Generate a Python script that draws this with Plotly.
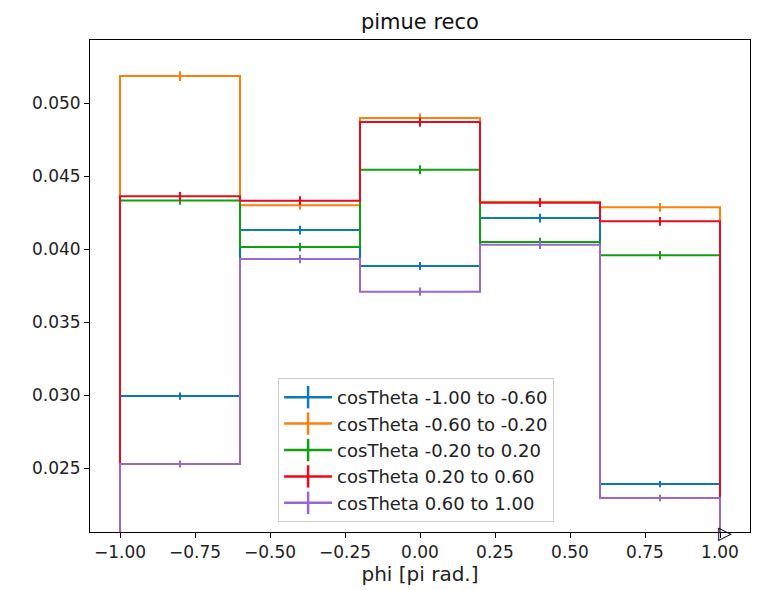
import plotly.graph_objects as go

edges = [-1.0, -0.6, -0.2, 0.2, 0.6, 1.0]
centers = [-0.8, -0.4, 0.0, 0.4, 0.8]

labels = [
    "cosTheta -1.00 to -0.60",
    "cosTheta -0.60 to -0.20",
    "cosTheta -0.20 to 0.20",
    "cosTheta 0.20 to 0.60",
    "cosTheta 0.60 to 1.00",
]

vals_1 = [0.02993, 0.04130, 0.03884, 0.04212, 0.02390]
vals_2 = [0.05185, 0.04300, 0.04897, 0.04322, 0.04286]
vals_3 = [0.04333, 0.04014, 0.04543, 0.04048, 0.03957]
vals_4 = [0.04361, 0.04331, 0.04870, 0.04318, 0.04190]
vals_5 = [0.02527, 0.03932, 0.03708, 0.04030, 0.02295]

err_1 = [0.00025, 0.00030, 0.00028, 0.00030, 0.00022]
err_2 = [0.00033, 0.00030, 0.00032, 0.00030, 0.00030]
err_3 = [0.00030, 0.00029, 0.00031, 0.00029, 0.00029]
err_4 = [0.00030, 0.00030, 0.00032, 0.00030, 0.00030]
err_5 = [0.00024, 0.00029, 0.00028, 0.00029, 0.00022]

colors = ["#0b78be", "#ff7f0e", "#10a010", "#ea0a1e", "#9a68c8"]

y_range = [0.02062, 0.05432]
x_range = [-1.1, 1.1]
x_ticks = [-1.0, -0.75, -0.5, -0.25, 0.0, 0.25, 0.5, 0.75, 1.0]
y_ticks = [0.025, 0.030, 0.035, 0.040, 0.045, 0.050]

all_vals = [vals_1, vals_2, vals_3, vals_4, vals_5]
all_errs = [err_1, err_2, err_3, err_4, err_5]

fig = go.Figure()

for i, (v, e, c, lab) in enumerate(zip(all_vals, all_errs, colors, labels)):
    xs = [edges[0]] + edges[:-1] + [edges[-1], edges[-1]]
    ys = [0] + v + [v[-1], 0]
    fig.add_trace(go.Scatter(
        x=xs, y=ys, mode="lines", line=dict(color=c, width=2, shape="hv"),
        showlegend=False, hoverinfo="skip"))
    fig.add_trace(go.Scatter(
        x=centers, y=v, mode="markers", marker=dict(size=1, color=c, opacity=0),
        error_y=dict(type="data", array=e, color=c, thickness=2, width=0),
        showlegend=False))
    fig.add_trace(go.Scatter(
        x=[None], y=[None], mode="lines+markers", name=lab,
        legendgroup="g%d" % i,
        line=dict(color=c, width=2.5),
        marker=dict(symbol="line-ns-open", size=18, color=c,
                    line=dict(color=c, width=2.5))))

fig.add_annotation(x=edges[-1], y=0, xref="x", yref="paper",
                   text="▷", showarrow=False, font=dict(size=18, color="black"),
                   xanchor="center", yanchor="middle", xshift=5)

tick_fmt = lambda t: ("%.2f" % t).replace("-", "\u2212")

fig.update_layout(
    width=758, height=590,
    margin=dict(l=90, r=8, t=40, b=58),
    paper_bgcolor="white", plot_bgcolor="white",
    font=dict(family="DejaVu Sans", size=17, color="#222"),
    title=dict(text="pimue reco", x=0.554, xanchor="center", y=0.963,
               yanchor="middle", font=dict(size=21, color="#111")),
    legend=dict(x=0.285, y=0.313, xanchor="left", yanchor="top",
                bgcolor="rgba(255,255,255,0.85)", bordercolor="#d0d0d0",
                borderwidth=1, font=dict(size=18, color="#222"),
                tracegroupgap=0, traceorder="grouped", itemwidth=48),
)
fig.update_xaxes(range=x_range, tickvals=x_ticks,
                 ticktext=[tick_fmt(t) for t in x_ticks],
                 showgrid=False, zeroline=False, showline=True, mirror=True,
                 linecolor="black", linewidth=1, ticks="outside", ticklen=5,
                 tickcolor="black", title=dict(text="phi [pi rad.]", standoff=4))
fig.update_yaxes(range=y_range, tickvals=y_ticks,
                 ticktext=["%.3f" % t for t in y_ticks],
                 showgrid=False, zeroline=False, showline=True, mirror=True,
                 linecolor="black", linewidth=1, ticks="outside", ticklen=5,
                 tickcolor="black")

fig.write_html("out.html", config={"displayModeBar": False},
               post_script="document.body.style.margin='0';"
                           "document.documentElement.style.overflow='hidden';")
